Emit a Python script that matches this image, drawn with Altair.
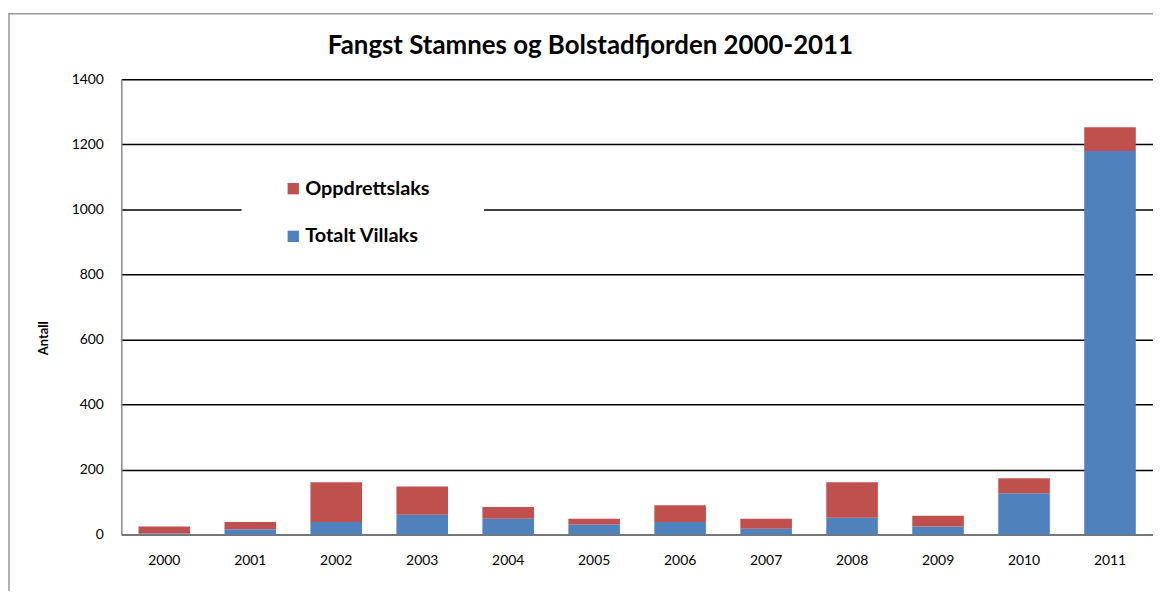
import altair as alt
import pandas as pd

years = ["2000", "2001", "2002", "2003", "2004", "2005", "2006", "2007", "2008", "2009", "2010", "2011"]
villaks = [3, 16, 39, 61, 49, 31, 39, 18, 52, 25, 127, 1180]
oppdrett = [22, 23, 122, 87, 36, 18, 51, 31, 109, 33, 46, 73]
series = ["Oppdrettslaks", "Totalt Villaks"]
colors = ["#C0504D", "#4F81BD"]
title_text = "Fangst Stamnes og Bolstadfjorden 2000-2011"

rows = []
for y, v, o in zip(years, villaks, oppdrett):
    rows.append({"year": y, "series": "Totalt Villaks", "value": v, "ord": 0})
    rows.append({"year": y, "series": "Oppdrettslaks", "value": o, "ord": 1})
df = pd.DataFrame(rows)

FONT = "Lato"

bars = alt.Chart(df).mark_bar().encode(
    x=alt.X("year:N", sort=years, title=None,
            scale=alt.Scale(paddingInner=0.4, paddingOuter=0.2),
            axis=alt.Axis(labelAngle=0, ticks=False, labelPadding=19, labelFontSize=14,
                          labelColor="#000", domainColor="#888", domainWidth=1.5)),
    y=alt.Y("value:Q", stack="zero", title="Antall",
            scale=alt.Scale(domain=[0, 1400]),
            axis=alt.Axis(values=[0, 200, 400, 600, 800, 1000, 1200, 1400], ticks=False,
                          format="d",
                          labelPadding=18, labelFontSize=14, labelColor="#000",
                          domainColor="#888", domainWidth=1.5,
                          grid=True, gridColor="#000", gridWidth=1.5,
                          titleFontSize=13, titleFontWeight="bold", titleColor="#000",
                          titleX=-71, titleY=260)),
    color=alt.Color("series:N", scale=alt.Scale(domain=series, range=colors),
                    legend=alt.Legend(title=None, orient="none", legendX=163, legendY=100,
                                      padding=0, symbolType="square",
                                      symbolSize=130, labelFontSize=20, labelFontWeight="bold",
                                      labelColor="#000", labelOffset=2, rowPadding=28,
                                      symbolStrokeWidth=0)),
    order=alt.Order("ord:Q"),
)

cover = alt.Chart(pd.DataFrame({"a": [0]})).mark_rect(fill="white").encode(
    x=alt.value(121), x2=alt.value(365), y=alt.value(72), y2=alt.value(184)
)

frame = alt.Chart(pd.DataFrame({"a": [0]})).mark_rect(fill=None, stroke="#999", strokeWidth=1.5).encode(
    x=alt.value(-113), x2=alt.value(1300), y=alt.value(-66), y2=alt.value(700)
)

title = alt.Chart(pd.DataFrame({"t": [title_text]})).mark_text(
    fontSize=26, fontWeight="bold", font=FONT, color="#000", align="center", baseline="alphabetic"
).encode(text="t:N", x=alt.value(472), y=alt.value(-26))

chart = alt.layer(cover, bars, frame, title).properties(
    width=1038, height=458,
    autosize=alt.AutoSizeParams(type="none"),
    padding={"left": 114, "top": 70, "right": 0, "bottom": 55},
).configure(font=FONT).configure_view(stroke=None)

chart.save("out.html", embed_options={"renderer": "svg", "actions": False})
